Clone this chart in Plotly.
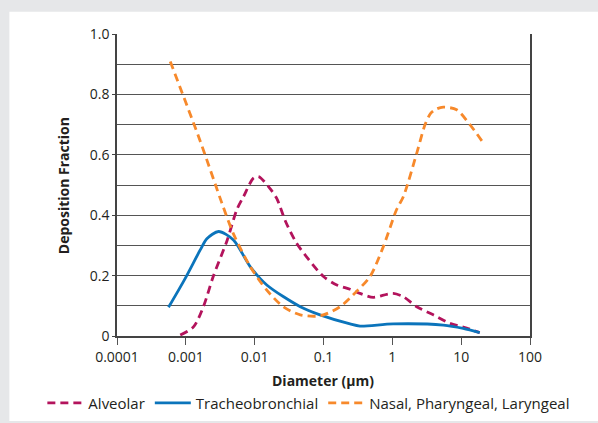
import plotly.graph_objects as go

# ---- data ----
alv_x = [0.00083, 0.0013, 0.0018, 0.0025, 0.004, 0.0055, 0.0069, 0.0096, 0.0114, 0.0165, 0.021, 0.028,
         0.040, 0.060, 0.1, 0.156, 0.243, 0.339, 0.53, 0.83, 1.03, 1.45, 2.26, 3.94, 6.87, 12.0, 18.6]
alv_y = [0.003, 0.031, 0.097, 0.197, 0.318, 0.418, 0.462, 0.523, 0.528, 0.490, 0.455, 0.380,
         0.310, 0.255, 0.197, 0.169, 0.155, 0.141, 0.128, 0.138, 0.141, 0.130, 0.097, 0.070, 0.042, 0.026, 0.011]

tb_x = [0.00056, 0.00098, 0.00162, 0.00202, 0.00299, 0.00492, 0.0086, 0.015, 0.046, 0.089,
        0.243, 0.339, 1.03, 5.5, 10.7, 18.6]
tb_y = [0.095, 0.191, 0.285, 0.322, 0.346, 0.318, 0.230, 0.169, 0.097, 0.070,
        0.040, 0.033, 0.040, 0.036, 0.025, 0.011]

npl_x = [0.000594, 0.00162, 0.00334, 0.00488, 0.0086, 0.015, 0.026, 0.046, 0.09, 0.174,
         0.30, 0.474, 0.74, 1.15, 1.45, 2.26, 2.99, 3.6, 4.4, 5.5, 8.6, 13.4, 20.3]
npl_y = [0.909, 0.645, 0.440, 0.340, 0.230, 0.152, 0.097, 0.070, 0.067, 0.097,
         0.147, 0.197, 0.296, 0.418, 0.462, 0.605, 0.700, 0.737, 0.752, 0.758, 0.749, 0.700, 0.644]

x_tickvals = [0.0001, 0.001, 0.01, 0.1, 1, 10, 100]
x_ticktext = ["0.0001", "0.001", "0.01", "0.1", "1", "10", "100"]
y_tickvals = [0, 0.2, 0.4, 0.6, 0.8, 1.0]
y_ticktext = ["0", "0.2", "0.4", "0.6", "0.8", "1.0"]

series_names = ["Alveolar", "Tracheobronchial", "Nasal, Pharyngeal, Laryngeal"]
colors = ["#b3135c", "#0b74bb", "#f7892b"]
x_title = "Diameter (µm)"
y_title = "Deposition Fraction"

FONT = "Open Sans, Noto Sans, sans-serif"
TXT = "#231f20"

fig = go.Figure()
fig.add_trace(go.Scatter(x=alv_x, y=alv_y, mode="lines", name=series_names[0],
                         line=dict(color=colors[0], width=2.8, dash="8px,5px", shape="spline", smoothing=0.8)))
fig.add_trace(go.Scatter(x=tb_x, y=tb_y, mode="lines", name=series_names[1],
                         line=dict(color=colors[1], width=2.8, shape="spline", smoothing=0.8)))
fig.add_trace(go.Scatter(x=npl_x, y=npl_y, mode="lines", name=series_names[2],
                         line=dict(color=colors[2], width=2.8, dash="8px,5px", shape="spline", smoothing=0.8)))

W, H = 598, 423
L, R, T, B = 116.7, 530, 34.3, 336
pw, ph = R - L, B - T

def px(xp):
    return (xp - L) / pw

def py(yp):
    return (B - yp) / ph

fig.add_shape(type="rect", xref="paper", yref="paper", layer="below",
              x0=px(9), x1=px(605), y0=py(421), y1=py(12),
              fillcolor="white", line=dict(width=0))

fig.add_annotation(text="<b>" + x_title + "</b>", xref="paper", yref="paper",
                   x=px(323), y=py(380), xanchor="center", yanchor="middle",
                   showarrow=False, font=dict(size=14, color=TXT, family=FONT))
fig.add_annotation(text="<b>" + y_title + "</b>", xref="paper", yref="paper",
                   x=px(64), y=py(186), xanchor="center", yanchor="middle", textangle=-90,
                   showarrow=False, font=dict(size=14, color=TXT, family=FONT))

fig.update_layout(
    width=W, height=H,
    margin=dict(l=L, r=W - R, t=T, b=H - B, pad=0, autoexpand=False),
    paper_bgcolor="#e6e7e9",
    plot_bgcolor="white",
    font=dict(family=FONT, size=14, color=TXT),
    showlegend=True,
    legend=dict(orientation="h", x=px(42), xanchor="left", y=py(403), yanchor="middle",
                font=dict(size=15, color=TXT), bgcolor="rgba(0,0,0,0)",
                itemwidth=36, tracegroupgap=0),
    xaxis=dict(type="log", range=[-4, 2], tickvals=x_tickvals, ticktext=x_ticktext,
               ticks="outside", ticklen=7, tickcolor="#555", tickwidth=1,
               showgrid=False, zeroline=False,
               showline=True, linecolor="#444", linewidth=1.5,
               tickfont=dict(size=14, color=TXT)),
    yaxis=dict(range=[0, 1.0], tickvals=y_tickvals, ticktext=y_ticktext,
               ticks="outside", ticklen=3, tickcolor="#444",
               showgrid=True, gridcolor="#555", gridwidth=1,
               minor=dict(dtick=0.1, showgrid=True, gridcolor="#555", gridwidth=1, ticks=""),
               zeroline=False,
               showline=True, linecolor="#444", linewidth=1.5, mirror=True,
               tickfont=dict(size=14, color=TXT)),
)

fig.write_html("out.html", config={"displayModeBar": False},
               post_script="document.body.style.margin='0';document.body.style.overflow='hidden';")
